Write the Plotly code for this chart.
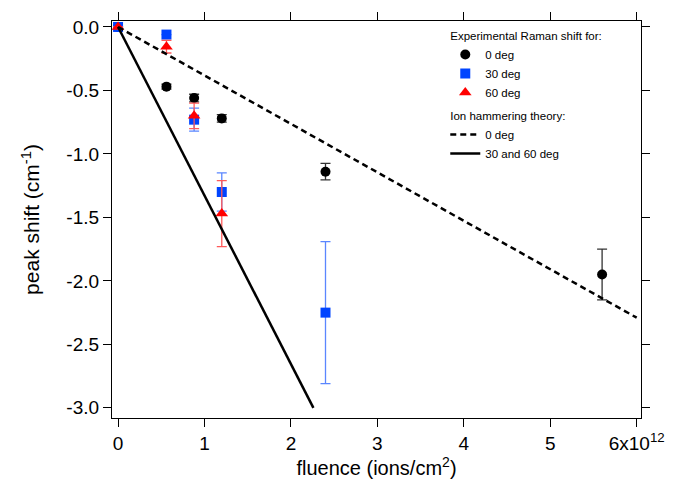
import plotly.graph_objects as go

# ---- data ----
fluence_0 = [0, 0.56, 0.88, 1.2, 2.4, 5.6]
shift_0 = [0, -0.47, -0.56, -0.72, -1.14, -1.95]
err_0 = [0, 0.02, 0.03, 0.03, 0.065, 0.2]

fluence_30 = [0, 0.56, 0.88, 1.2, 2.4]
shift_30 = [0, -0.06, -0.73, -1.30, -2.25]
err_30 = [0, 0.0, 0.09, 0.15, 0.56]

fluence_60 = [0, 0.56, 0.88, 1.2]
shift_60 = [0, -0.155, -0.70, -1.47]
err_60 = [0, 0.05, 0.10, 0.26]

theory0_x = [0, 6.0]
theory0_y = [0, -2.29]
theory3060_x = [0, 2.26]
theory3060_y = [0, -3.0]

xtick_vals = [0, 1, 2, 3, 4, 5, 6]
xtick_text = ["0", "1", "2", "3", "4", "5", "6x10<sup>12</sup>"]
ytick_vals = [0, -0.5, -1.0, -1.5, -2.0, -2.5, -3.0]
ytick_text = ["0.0", "-0.5", "-1.0", "-1.5", "-2.0", "-2.5", "-3.0"]

FONT = "Liberation Sans, Arial, Helvetica, sans-serif"

fig = go.Figure()

fig.add_trace(go.Scatter(
    x=fluence_0, y=shift_0, mode="markers", name="0 deg",
    legendgroup="exp", legendgrouptitle_text="Experimental Raman shift for:",
    marker=dict(symbol="circle", size=10, color="black"),
    error_y=dict(type="data", array=err_0, color="#333333", thickness=1.3, width=5),
))
fig.add_trace(go.Scatter(
    x=fluence_30, y=shift_30, mode="markers", name="30 deg",
    legendgroup="exp",
    marker=dict(symbol="square", size=10, color="#0044ff"),
    error_y=dict(type="data", array=err_30, color="#5a86ff", thickness=1.3, width=5),
))
fig.add_trace(go.Scatter(
    x=fluence_60, y=shift_60, mode="markers", name="60 deg",
    legendgroup="exp",
    marker=dict(symbol="triangle-up", size=11, color="#ff0000"),
    error_y=dict(type="data", array=err_60, color="#ff5a5a", thickness=1.3, width=5),
))
fig.add_trace(go.Scatter(
    x=theory0_x, y=theory0_y, mode="lines", name="0 deg",
    legendgroup="theory", legendgrouptitle_text="Ion hammering theory:",
    line=dict(color="black", width=2.5, dash="6px,4px"),
))
fig.add_trace(go.Scatter(
    x=theory3060_x, y=theory3060_y, mode="lines", name="30 and 60 deg",
    legendgroup="theory",
    line=dict(color="black", width=2.5),
))

axis_common = dict(
    showline=True, linecolor="black", linewidth=1.2, mirror="ticks",
    ticks="outside", ticklen=8, tickwidth=1, tickcolor="black",
    showgrid=False, zeroline=False,
    tickfont=dict(family=FONT, size=19, color="black"),
)

fig.update_xaxes(
    range=[-0.07, 6.05], tickvals=xtick_vals, ticktext=xtick_text,
    title=dict(text="fluence (ions/cm<sup>2</sup>)", font=dict(family=FONT, size=20, color="black"), standoff=2),
    **axis_common,
)
fig.update_yaxes(
    range=[-3.08, 0.047], tickvals=ytick_vals, ticktext=ytick_text,
    title=dict(text="peak shift (cm<sup>-1</sup>)", font=dict(family=FONT, size=21, color="black"), standoff=20),
    **axis_common,
)

fig.update_layout(
    width=682, height=482,
    margin=dict(l=112, r=41, t=17, b=64),
    plot_bgcolor="white", paper_bgcolor="white",
    font=dict(family=FONT, color="black"),
    legend=dict(
        x=0.63, y=1.0, xanchor="left", yanchor="top",
        bgcolor="rgba(0,0,0,0)", borderwidth=0,
        font=dict(family=FONT, size=11.5, color="black"),
        grouptitlefont=dict(family=FONT, size=11.5, color="black"),
        tracegroupgap=4, traceorder="grouped",
    ),
)

fig.write_html("out.html")
